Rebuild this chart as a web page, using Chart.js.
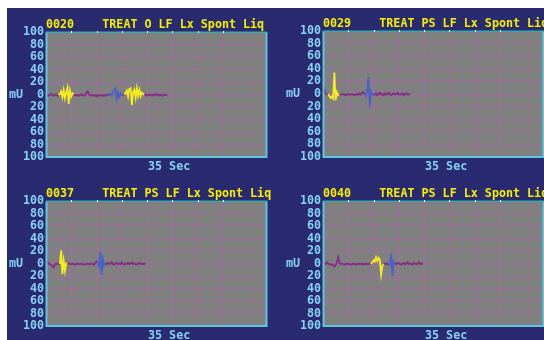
<!DOCTYPE html>
<html>
<head>
<meta charset="utf-8">
<script src="https://cdn.jsdelivr.net/npm/chart.js@4.4.1/dist/chart.umd.min.js"></script>
<style>
  html, body { margin: 0; padding: 0; background: #ffffff; }
  #board { position: relative; width: 544px; height: 340px; overflow: hidden; background: #ffffff; }
  #panelBg { position: absolute; left: 7px; top: 8px; right: 0; bottom: 0; background: #2a2a70; }
  canvas { position: absolute; }
</style>
</head>
<body>
<div id="board">
  <div id="panelBg"></div>
  <canvas id="c0020" width="272" height="170" style="left:0;top:0"></canvas>
  <canvas id="c0029" width="272" height="170" style="left:272px;top:0"></canvas>
  <canvas id="c0037" width="272" height="170" style="left:0;top:170px"></canvas>
  <canvas id="c0040" width="272" height="170" style="left:272px;top:170px"></canvas>
</div>
<script>
// ---- recording data ----
const SAMPLE_SEC = 0.2;           // sample interval of the traces (s)
const SWEEP_SEC = 35;             // sweep length shown on each screen (s)
const sweepLabel = '35 Sec';
const unitLabel = 'mU';
const mvTicks = [-100, -80, -60, -40, -20, 0, 20, 40, 60, 80, 100];
const secGrid = [4, 8, 12, 16, 20, 24, 28];

const recordIds = ['0020', '0029', '0037', '0040'];
const recordTitles = [
  'TREAT O LF Lx Spont Liq',
  'TREAT PS LF Lx Spont Liq',
  'TREAT PS LF Lx Spont Liq',
  'TREAT PS LF Lx Spont Liq'
];

// EMG traces in mV, one value per sample
const trace0020 = [
  0, -1, -2, -1, 1, -1, -2, -1, 0, -2, -1,
  1, 5, -4, 7, -6, 3, 11, -15, 6, -3, 2,
  0, -1, -2, -1, -2, -1, 0, -1, -2, -1, 2, 5, 1, -1, -2, -1, -2, -1, -3, -1, -2, -1, -1, -2, -1, -2, -1, 0, -1,
  1, -2, 3, 6, 10, -6, 3, -4, 2, -1,
  -1, 0,
  2, 6, -3, 9, 10, -17, 4, 8, -5, 10, -2, 7, -3, 3, 1,
  -1, 0, -2, -1, 0, -1, -2, 0, -1, 1, -1, -2, 0, -1, -2, -1, 0, -1, -1
];
const trace0029 = [
  2, 8, 1, -1, 0,
  -3, -6, -4, -7, 34, -10, 3, -2,
  0, -1, -1, 0, -1, -2, -1, 0, -1, -1, 0, -1, -2, -1, 0, -1, 1, -1, 2, 3, 0,
  -3, 6, 27, -21, 4, -2,
  0, -1, 1, -2, 0, 2, -1, 0, -2, 1, -1, 0, 2, -1, -2, 0, 1, -1, 0, 2, -1, 0, -1, 1, -2, 0, 1, -1, 0, -1
];
const trace0037 = [
  1, 3, 0, -1, -2, -4, -6, -2, 0, -1, 0, -1,
  21, -17, 4, -12, 0,
  -1, 0, -1, -1, 0, -1, -2, -1, 0, -1, -1, 0, -1, -2, -1, -1, 0, -1, -1, 0, -1, -2, 1, 3, 2,
  -4, 19, -18, 8, -3,
  0, -1, 1, -1, 0, 2, -1, -2, 0, 1, -1, 0, -1, 2, -1, -2, 0, -1, 1, -1, 0, 2, -1, 0, -1, -2, 0, 1, -1, 0, -1, 0, -1
];
const trace0040 = [
  1, 0, -1, 2, 0, -1, -2, -1, -3, -5, -2, 1, 10, 2, -1, 0, -1, -2, -1, 0, -1, -1, -2, -1, 0, -1, -2, -1, 0, -1, -1, 0, -2, -1, 0, -1, -1, 0, -1,
  2, 5, 3, 10, 4, 9, 6, -18, -4,
  -1, 0, -1, 0, -2,
  -3, 16, -20, 3,
  0, -1, 1, 0, -1, -2, 0, 1, -1, 0, 2, -1, 0, -1, -2, 1, 0, -1, 0, 2, -1, 0, -1
];

// marked events: [kind, first sample time, last sample time] (s)
const events0020 = [['A', 2.2, 4.2], ['B', 10.2, 12.0], ['A', 12.6, 15.4]];
const events0029 = [['A', 1.0, 2.4], ['B', 6.8, 7.8]];
const events0037 = [['A', 2.4, 3.2], ['B', 8.4, 9.2]];
const events0040 = [['A', 7.8, 9.4], ['B', 10.6, 11.2]];

// ---- look ----
const COLORS = {
  plot: '#808080',
  grid: '#c456c0',
  frame: '#5cc8e0',
  frameTop: '#3aa8a8',
  label: '#86d2f4',
  title: '#f4f000',
  base: '#862c88',
  A: '#f4ec1c',
  B: '#4862c6'
};
const FONT_FAMILY = '"DejaVu Sans Mono", "Liberation Mono", monospace';
const FONT_SIZE = 11.7;

const screenDecor = {
  id: 'screenDecor',
  beforeDraw(chart) {
    const { ctx, chartArea: a } = chart;
    ctx.save();
    ctx.fillStyle = COLORS.plot;
    ctx.fillRect(a.left, a.top, a.right - a.left, a.bottom - a.top);
    ctx.restore();
  },
  afterDraw(chart, args, opts) {
    const { ctx, chartArea: a, scales } = chart;
    ctx.save();
    // frame
    ctx.strokeStyle = COLORS.frame;
    ctx.lineWidth = 2;
    ctx.beginPath();
    ctx.moveTo(a.left + 0.5, a.top);
    ctx.lineTo(a.left + 0.5, a.bottom);
    ctx.lineTo(a.right - 0.5, a.bottom);
    ctx.lineTo(a.right - 0.5, a.top);
    ctx.stroke();
    ctx.strokeStyle = COLORS.frameTop;
    ctx.lineWidth = 1.5;
    ctx.beginPath();
    ctx.moveTo(a.left, a.top + 0.25);
    ctx.lineTo(a.right, a.top + 0.25);
    ctx.stroke();
    // small time marks along the top edge
    ctx.fillStyle = '#ffffff';
    secGrid.forEach(s => {
      const x = Math.round(scales.x.getPixelForValue(s));
      ctx.fillRect(x, a.top - 1, 1, 2);
    });
    // texts
    ctx.font = 'bold ' + FONT_SIZE + 'px ' + FONT_FAMILY;
    ctx.textBaseline = 'middle';
    ctx.textAlign = 'left';
    ctx.fillStyle = COLORS.title;
    ctx.fillText(opts.record + '    ' + opts.title, a.left, a.top - 7.5);
    ctx.fillStyle = COLORS.label;
    ctx.fillText(unitLabel, a.left - 37, scales.y.getPixelForValue(0));
    ctx.fillText(sweepLabel, a.left + 102, a.bottom + 9.5);
    ctx.restore();
  }
};

function makeScreen(canvasId, record, title, trace, events, area) {
  const canvas = document.getElementById(canvasId);
  const W = canvas.width, H = canvas.height;
  const points = trace.map((v, i) => ({ x: i * SAMPLE_SEC, y: v }));
  const EPS = 0.01;
  const kindOf = (t0, t1) => {
    for (const [kind, start, end] of events) {
      if (t1 >= start - EPS && t0 <= end + EPS) return kind;
    }
    return null;
  };
  const gridCommon = { color: COLORS.grid, lineWidth: 1, drawTicks: false };
  const borderCommon = { display: false, dash: [2, 2] };

  return new Chart(canvas, {
    type: 'line',
    data: {
      datasets: [{
        data: points,
        borderColor: COLORS.base,
        borderWidth: 1.8,
        pointRadius: 0,
        tension: 0,
        segment: {
          borderColor: c => {
            const k = kindOf(c.p0.parsed.x, c.p1.parsed.x);
            return k ? COLORS[k] : undefined;
          }
        }
      }]
    },
    options: {
      responsive: false,
      animation: false,
      events: [],
      layout: { padding: { left: 0, top: area.top, right: W - area.right, bottom: H - area.bottom } },
      plugins: {
        legend: { display: false },
        tooltip: { enabled: false },
        screenDecor: { record, title }
      },
      scales: {
        x: {
          type: 'linear',
          min: 0,
          max: SWEEP_SEC,
          afterBuildTicks: s => { s.ticks = secGrid.map(v => ({ value: v })); },
          afterFit: s => { s.height = 0; },
          ticks: { display: false },
          grid: gridCommon,
          border: borderCommon
        },
        y: {
          min: -100,
          max: 100,
          afterBuildTicks: s => { s.ticks = mvTicks.map(v => ({ value: v })); },
          afterFit: s => { s.width = area.left; },
          ticks: {
            autoSkip: false,
            padding: 2,
            color: COLORS.label,
            font: { family: FONT_FAMILY, size: FONT_SIZE, weight: 'bold' },
            callback: v => String(Math.abs(v))
          },
          grid: gridCommon,
          border: borderCommon
        }
      }
    },
    plugins: [screenDecor]
  });
}

makeScreen('c0020', recordIds[0], recordTitles[0], trace0020, events0020, { left: 46, top: 32, right: 267, bottom: 157 });
makeScreen('c0029', recordIds[1], recordTitles[1], trace0029, events0029, { left: 51, top: 31, right: 272, bottom: 157 });
makeScreen('c0037', recordIds[2], recordTitles[2], trace0037, events0037, { left: 46, top: 31, right: 267, bottom: 156 });
makeScreen('c0040', recordIds[3], recordTitles[3], trace0040, events0040, { left: 51, top: 31, right: 272, bottom: 156 });
</script>
</body>
</html>
